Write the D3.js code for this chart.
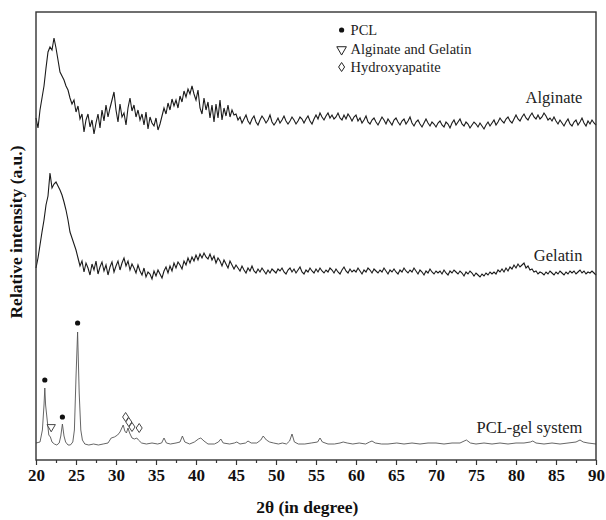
<!DOCTYPE html>
<html>
<head>
<meta charset="utf-8">
<script src="https://d3js.org/d3.v7.min.js"></script>
<style>
  body { margin: 0; background: #fff; }
  svg { display: block; }
</style>
</head>
<body>
<svg id="drawing_region"></svg>
<script>
// 2θ grid of the two amorphous scans (0.25 deg per point)
const two_theta_start = 20;
const two_theta_step = 0.25;

// Alginate scan, 20 -> 90 deg (a.u.)
const alginate_values = [
  342,332,350,362,374,392,408,413,410,422,412,400,388,384,380,374,370,362,356,360,
  348,354,341,346,328,340,346,333,340,326,337,346,332,350,339,355,343,352,360,368,
  350,338,356,343,347,335,352,362,349,355,343,350,340,346,335,348,331,343,337,334,
  342,330,336,344,352,346,357,350,361,354,360,352,364,358,369,363,371,366,374,366,
  360,370,352,346,362,350,358,342,355,338,356,342,360,340,352,344,355,343,350,345,
  346,340,343,337,341,345,339,336,341,344,338,335,340,344,341,337,340,345,338,335,
  338,342,337,340,344,339,336,339,343,340,336,339,343,341,337,341,344,339,336,341,
  345,341,347,343,340,344,347,342,345,341,343,347,342,340,345,341,346,343,339,343,
  345,339,342,337,340,344,338,336,340,342,338,335,339,343,340,336,341,338,335,340,
  342,338,335,339,341,336,339,343,337,334,338,340,336,333,337,341,337,334,338,336,
  333,337,339,335,333,338,336,332,337,340,335,338,341,336,334,338,336,332,335,338,
  336,333,337,334,331,335,338,334,337,340,335,338,342,339,337,341,343,339,337,341,
  345,341,339,343,346,342,340,344,347,343,341,345,341,343,347,344,340,342,339,343,
  339,336,340,337,334,338,341,336,334,338,340,335,338,342,337,334,339,336,340,337,
  335
];

// Gelatin scan, 20 -> 90 deg (a.u.)
const gelatin_values = [
  192,202,215,228,240,255,264,287,272,276,278,274,270,265,258,250,240,228,222,216,
  210,202,194,199,188,197,192,185,196,190,199,186,193,198,189,195,185,193,198,188,
  194,199,190,197,202,194,199,190,196,192,187,195,189,185,192,183,188,186,181,189,
  184,190,186,182,189,193,187,194,189,197,192,198,195,191,199,195,202,197,203,199,
  205,200,206,202,207,203,201,206,200,204,197,202,199,194,200,196,192,199,195,191,
  195,192,189,194,190,187,192,189,194,189,187,191,188,192,189,186,190,187,191,189,
  187,191,189,192,188,186,190,192,188,191,187,190,193,188,186,190,188,192,189,187,
  191,188,192,189,187,190,188,192,190,187,191,188,186,190,193,189,187,191,188,190,
  188,192,189,186,190,188,192,190,187,191,189,187,190,188,192,189,186,190,188,191,
  188,186,190,188,192,189,187,190,188,192,189,186,190,188,185,189,187,191,188,186,
  189,187,189,186,190,187,185,189,187,190,188,186,189,187,184,188,186,189,187,184,
  187,185,183,186,184,187,185,188,186,188,186,190,188,191,188,192,189,193,191,195,
  192,196,193,195,197,192,194,190,191,188,189,186,188,187,185,188,186,189,187,185,
  188,186,189,187,185,188,186,189,187,189,186,188,190,187,189,186,188,187,189,187,
  185
];

// PCL-gel system scan: [2θ, intensity]
const pcl_gel_points = [
  [20,17],[20.5,18],[20.8,30],[21.0,55],[21.1,72],[21.2,55],[21.4,40],[21.6,25],[21.8,23],
  [22.0,18],[22.3,16],[22.6,15],[22.9,17],[23.1,24],[23.3,36],[23.5,24],[23.7,18],[24.0,15],
  [24.3,15],[24.6,18],[24.8,30],[25.0,83],[25.2,128],[25.4,67],[25.6,30],[25.8,20],[26.1,16],
  [26.6,15],[27.2,16],[27.8,15],[28.4,16],[29.0,17],[29.4,22],[29.8,23],[30.2,25],[30.5,28],
  [30.9,35],[31.1,29],[31.3,27],[31.5,32],[31.7,27],[32.0,22],[32.3,21],[32.6,22],[32.8,20],
  [33.2,17],[33.8,16],[34.5,17],[35.2,16],[35.7,17],[36.0,22],[36.3,17],[36.8,16],[37.5,17],
  [38.0,18],[38.3,24],[38.6,18],[39.2,16],[39.8,18],[40.3,21],[40.6,22],[41.0,19],[41.5,16],
  [42.3,16],[42.8,18],[43.1,21],[43.4,17],[44.2,16],[44.8,17],[45.1,18],[45.5,16],[46.2,17],
  [46.5,19],[46.9,17],[47.6,17],[48.1,20],[48.4,24],[48.8,20],[49.2,18],[49.7,17],[50.3,16],
  [50.8,17],[51.3,16],[51.7,19],[52.0,26],[52.3,18],[52.8,16],[53.6,16],[54.4,17],[55.2,18],
  [55.5,22],[55.8,18],[56.5,16],[57.3,16],[58.0,17],[58.4,18],[58.9,17],[59.6,16],[60.4,17],
  [61.2,16],[61.7,18],[62.0,19],[62.4,17],[63.2,16],[64.0,16],[65.1,17],[66.0,16],[67.0,17],
  [68.0,16],[69.0,17],[70.0,17],[71.0,16],[72.0,17],[73.0,17],[73.8,20],[74.3,17],[75.0,16],
  [76.0,17],[77.0,16],[78.0,17],[79.0,16],[80.0,17],[81.0,17],[81.8,18],[82.1,19],[82.5,17],
  [83.5,16],[84.5,17],[85.5,16],[86.5,17],[87.5,18],[88.0,20],[88.4,18],[89.0,17],[90.0,16]
];

// peak markers: [2θ, intensity]
const pcl_marks = [[21.1,80],[23.3,43],[25.2,137]];
const alg_gel_marks = [[21.9,33]];
const hap_marks = [[31.2,43],[31.6,38],[32.0,33],[32.9,32]];

const x_ticks = [20,25,30,35,40,45,50,55,60,65,70,75,80,85,90];
const legend_labels = ['PCL', 'Alginate and Gelatin', 'Hydroxyapatite'];
const series_names = ['Alginate', 'Gelatin', 'PCL-gel system'];

class XrdChart {
    constructor (config) {
        this.config = {
            parent: config.parent,
            width: config.width || 606,
            height: config.height || 520,
            margin: config.margin || {top:12, right:10, bottom:60, left:36},
            xlabel: config.xlabel || '',
            ylabel: config.ylabel || ''
        };
        this.init();
    }

    init() {
        let self = this;

        self.svg = d3.select(self.config.parent)
            .attr('width', self.config.width)
            .attr('height', self.config.height);

        self.chart = self.svg.append('g')
            .attr('transform', `translate(${self.config.margin.left}, ${self.config.margin.top})`);

        self.inner_width = self.config.width - self.config.margin.left - self.config.margin.right;
        self.inner_height = self.config.height - self.config.margin.top - self.config.margin.bottom;

        self.xscale = d3.scaleLinear()
            .domain([20, 90])
            .range([0, self.inner_width]);

        self.yscale = d3.scaleLinear()
            .domain([0, 448])
            .range([self.inner_height, 0]);

        self.xaxis = d3.axisBottom(self.xscale)
            .tickValues(x_ticks)
            .tickSize(5)
            .tickSizeOuter(0)
            .tickPadding(4)
            .tickFormat(d3.format('d'));

        // minor ticks
        self.xaxis_minor = d3.axisBottom(self.xscale)
            .tickValues(x_ticks.slice(1).map(d => d - 2.5))
            .tickSize(3)
            .tickSizeOuter(0)
            .tickFormat('');

        self.xaxis_group = self.chart.append('g')
            .attr('transform', `translate(0, ${self.inner_height})`);
        self.xminor_group = self.chart.append('g')
            .attr('transform', `translate(0, ${self.inner_height})`);
    }

    update() {
        let self = this;

        self.alginate = alginate_values.map((v, i) => [two_theta_start + i * two_theta_step, v]);
        self.gelatin = gelatin_values.map((v, i) => [two_theta_start + i * two_theta_step, v]);
        self.pcl_gel = pcl_gel_points;

        self.render();
    }

    render() {
        let self = this;

        const line = d3.line()
            .x(d => self.xscale(d[0]))
            .y(d => self.yscale(d[1]));

        self.chart.append('path')
            .datum(self.alginate)
            .attr('fill', 'none')
            .attr('stroke', '#1a1a1a')
            .attr('stroke-width', 1.1)
            .attr('d', line);

        self.chart.append('path')
            .datum(self.gelatin)
            .attr('fill', 'none')
            .attr('stroke', '#1a1a1a')
            .attr('stroke-width', 1.1)
            .attr('d', line);

        self.chart.append('path')
            .datum(self.pcl_gel)
            .attr('fill', 'none')
            .attr('stroke', '#555')
            .attr('stroke-width', 0.9)
            .attr('d', line);

        // markers
        self.chart.selectAll('.pcl_mark')
            .data(pcl_marks)
            .join('circle')
            .attr('class', 'pcl_mark')
            .attr('cx', d => self.xscale(d[0]))
            .attr('cy', d => self.yscale(d[1]))
            .attr('r', 2.6)
            .attr('fill', '#111');

        const tri = d3.symbol().type(d3.symbolTriangle).size(30);
        self.chart.selectAll('.ag_mark')
            .data(alg_gel_marks)
            .join('path')
            .attr('class', 'ag_mark')
            .attr('d', tri)
            .attr('transform', d => `translate(${self.xscale(d[0])}, ${self.yscale(d[1])}) rotate(180)`)
            .attr('fill', '#fff')
            .attr('stroke', '#333')
            .attr('stroke-width', 0.9);

        const diamond = 'M0,-4.5L3,0L0,4.5L-3,0Z';
        self.chart.selectAll('.hap_mark')
            .data(hap_marks)
            .join('path')
            .attr('class', 'hap_mark')
            .attr('d', diamond)
            .attr('transform', d => `translate(${self.xscale(d[0])}, ${self.yscale(d[1])})`)
            .attr('fill', '#fff')
            .attr('stroke', '#333')
            .attr('stroke-width', 0.9);

        // frame
        self.chart.append('rect')
            .attr('x', 0)
            .attr('y', 0)
            .attr('width', self.inner_width)
            .attr('height', self.inner_height)
            .attr('fill', 'none')
            .attr('stroke', '#333')
            .attr('stroke-width', 1.4);

        self.xaxis_group.call(self.xaxis);
        self.xminor_group.call(self.xaxis_minor);
        self.chart.selectAll('.domain').remove();
        self.chart.selectAll('.tick line')
            .attr('stroke', '#333')
            .attr('stroke-width', 1.2);
        self.xaxis_group.selectAll('.tick text')
            .attr('font-family', '"Liberation Serif", "Times New Roman", serif')
            .attr('font-weight', 'bold')
            .attr('font-size', '17px')
            .attr('fill', '#111');

        // series names
        const name_pos = [[88.3, 357], [88.3, 199], [88.3, 27]];
        self.chart.selectAll('.series_name')
            .data(series_names)
            .join('text')
            .attr('class', 'series_name')
            .attr('x', (d, i) => self.xscale(name_pos[i][0]))
            .attr('y', (d, i) => self.yscale(name_pos[i][1]))
            .attr('text-anchor', 'end')
            .attr('font-family', '"Liberation Serif", "Times New Roman", serif')
            .attr('font-size', '16.5px')
            .attr('fill', '#222')
            .text(d => d);

        // legend
        const legend = self.chart.append('g')
            .attr('transform', `translate(${self.xscale(58.2)}, ${18})`);
        const legend_rows = legend.selectAll('g')
            .data(legend_labels)
            .join('g')
            .attr('transform', (d, i) => `translate(0, ${i * 18.5})`);
        legend_rows.append('text')
            .attr('x', 9)
            .attr('y', 5)
            .attr('font-family', '"Liberation Serif", "Times New Roman", serif')
            .attr('font-size', '14.5px')
            .attr('fill', '#222')
            .text(d => d);
        legend_rows.filter((d, i) => i === 0)
            .append('circle')
            .attr('r', 2.6)
            .attr('fill', '#111');
        legend_rows.filter((d, i) => i === 1)
            .append('path')
            .attr('d', d3.symbol().type(d3.symbolTriangle).size(40))
            .attr('transform', 'translate(0, 1) rotate(180)')
            .attr('fill', '#fff')
            .attr('stroke', '#222')
            .attr('stroke-width', 1);
        legend_rows.filter((d, i) => i === 2)
            .append('path')
            .attr('d', diamond)
            .attr('fill', '#fff')
            .attr('stroke', '#222')
            .attr('stroke-width', 1);

        // axis labels
        self.svg.append('text')
            .attr('x', self.config.margin.left + self.xscale(53.9))
            .attr('y', 513)
            .attr('text-anchor', 'middle')
            .attr('font-family', '"Liberation Serif", "Times New Roman", serif')
            .attr('font-weight', 'bold')
            .attr('font-size', '17.5px')
            .attr('fill', '#111')
            .text(self.config.xlabel);

        self.svg.append('text')
            .attr('transform', `translate(22, ${232}) rotate(-90)`)
            .attr('text-anchor', 'middle')
            .attr('font-family', '"Liberation Serif", "Times New Roman", serif')
            .attr('font-weight', 'bold')
            .attr('font-size', '17.5px')
            .attr('fill', '#111')
            .text(self.config.ylabel);
    }
}

let chart = new XrdChart({
    parent: '#drawing_region',
    width: 606,
    height: 520,
    margin: {top:12, right:10, bottom:60, left:36},
    xlabel: '2θ (in degree)',
    ylabel: 'Relative intensity (a.u.)'
});
chart.update();
</script>
</body>
</html>
